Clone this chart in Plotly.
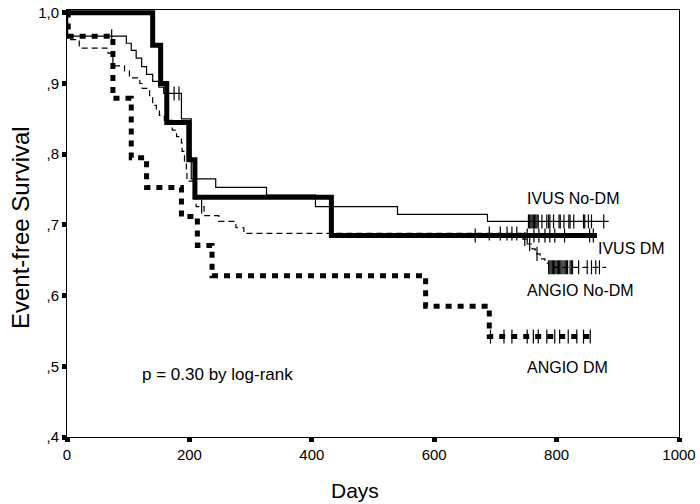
import plotly.graph_objects as go
import numpy as np

# ---- data (days, event-free survival) ----
ivus_dm_t = [0, 140, 153, 163, 199, 209, 432, 866]
ivus_dm_s = [1.0, 0.954, 0.900, 0.845, 0.792, 0.739, 0.685, 0.685]
ivus_dm_cens = [667, 752, 763, 771, 781, 789, 797, 813, 854, 860]

ivus_nodm_t = [0, 1, 97, 105, 113, 122, 130, 140, 150, 158, 187, 203, 243, 326, 406, 540, 687, 885]
ivus_nodm_s = [1.0, 0.967, 0.957, 0.947, 0.936, 0.924, 0.913, 0.903, 0.895, 0.886, 0.850, 0.765,
               0.753, 0.742, 0.726, 0.715, 0.705, 0.705]
ivus_nodm_cens = [73, 175, 183, 754, 756, 758, 760, 762, 764, 766, 768, 770, 776, 784, 787, 789,
                  795, 804, 806, 812, 820, 822, 828, 844, 846, 852, 857, 877]

angio_nodm_t = [0, 1, 20, 67, 75, 94, 102, 119, 123, 135, 140, 146, 151, 159, 172, 179, 187, 188,
                192, 195, 196, 211, 224, 248, 276, 289, 745, 752, 760, 765, 773, 781, 787, 881]
angio_nodm_s = [1.0, 0.962, 0.950, 0.943, 0.925, 0.918, 0.908, 0.900, 0.893, 0.883, 0.869, 0.862,
                0.855, 0.848, 0.834, 0.825, 0.816, 0.804, 0.790, 0.776, 0.762, 0.726, 0.713, 0.705,
                0.696, 0.688, 0.680, 0.673, 0.666, 0.659, 0.652, 0.646, 0.640, 0.640]
angio_nodm_cens = [220, 690, 708, 719, 727, 735, 748, 756, 768, 787, 789, 791, 793, 795, 797, 799,
                   801, 803, 805, 807, 809, 812, 814, 816, 818, 822, 824, 826, 836, 850, 857, 864, 870]

angio_dm_t = [0, 2, 75, 105, 130, 187, 213, 237, 586, 690, 862]
angio_dm_s = [1.0, 0.967, 0.879, 0.795, 0.753, 0.712, 0.671, 0.628, 0.585, 0.542, 0.542]
angio_dm_cens = [692, 714, 727, 752, 762, 770, 784, 797, 805, 819, 833, 844, 855]

x_ticks = [0, 200, 400, 600, 800, 1000]
y_ticks = [0.4, 0.5, 0.6, 0.7, 0.8, 0.9, 1.0]
y_ticktext = [",4", ",5", ",6", ",7", ",8", ",9", "1,0"]

labels = ["IVUS No-DM", "IVUS DM", "ANGIO No-DM", "ANGIO DM"]
p_text = "p = 0.30 by log-rank"


def step_at(t, s, days):
    t = np.asarray(t)
    s = np.asarray(s)
    idx = np.searchsorted(t, days, side="right") - 1
    return s[idx]


FONT = "Liberation Sans, Arial, Helvetica, sans-serif"
fig = go.Figure()

curves = [
    (angio_dm_t, angio_dm_s, angio_dm_cens, dict(width=5, dash="6px,6px")),
    (ivus_dm_t, ivus_dm_s, ivus_dm_cens, dict(width=5)),
    (ivus_nodm_t, ivus_nodm_s, ivus_nodm_cens, dict(width=1.2)),
    (angio_nodm_t, angio_nodm_s, angio_nodm_cens, dict(width=1.2, dash="6px,4px")),
]

for t, s, cens, ls in curves:
    fig.add_trace(go.Scatter(x=t, y=s, mode="lines", line=dict(color="black", shape="hv", **ls),
                             showlegend=False, hoverinfo="skip"))
    fig.add_trace(go.Scatter(x=cens, y=step_at(t, s, cens), mode="markers",
                             marker=dict(symbol="line-ns-open", size=10, color="black",
                                         line=dict(width=1.2, color="black")),
                             showlegend=False, hoverinfo="skip"))

ann_font = dict(family=FONT, size=16, color="black")
fig.add_annotation(x=748, y=0.737, text=labels[0], showarrow=False, xanchor="left", yanchor="middle", font=ann_font)
fig.add_annotation(x=865, y=0.666, text=labels[1], showarrow=False, xanchor="left", yanchor="middle", font=ann_font)
fig.add_annotation(x=748, y=0.607, text=labels[2], showarrow=False, xanchor="left", yanchor="middle", font=ann_font)
fig.add_annotation(x=748, y=0.498, text=labels[3], showarrow=False, xanchor="left", yanchor="middle", font=ann_font)
fig.add_annotation(x=120, y=0.489, text=p_text, showarrow=False, xanchor="left", yanchor="middle",
                   font=dict(family=FONT, size=17, color="black"))

# axis titles
fig.add_annotation(x=0.471, y=-0.126, xref="paper", yref="paper", text="Days", showarrow=False,
                   xanchor="center", yanchor="middle", font=dict(family=FONT, size=21, color="black"))
fig.add_annotation(x=-0.0763, y=0.49, xref="paper", yref="paper", text="Event-free Survival", showarrow=False,
                   textangle=-90, xanchor="center", yanchor="middle",
                   font=dict(family=FONT, size=24, color="black"))

axis_common = dict(showgrid=False, zeroline=False, showline=True, linecolor="black", linewidth=1,
                   mirror=True, ticks="outside", ticklen=4, tickwidth=5, tickcolor="black",
                   ticklabeloverflow="allow",
                   tickfont=dict(family=FONT, size=15, color="black"))
fig.update_xaxes(range=[0, 1000], tickvals=x_ticks, ticktext=[str(v) for v in x_ticks], **axis_common)
fig.update_yaxes(range=[0.4, 1.004], tickvals=y_ticks, ticktext=y_ticktext, **axis_common)

fig.update_layout(width=700, height=504, margin=dict(l=67, r=17, t=4, b=67),
                  plot_bgcolor="white", paper_bgcolor="white", font=dict(family=FONT, color="black"))

fig.write_html("out.html", config={"displayModeBar": False},
               post_script="document.body.style.margin='0';document.body.style.padding='0';")
